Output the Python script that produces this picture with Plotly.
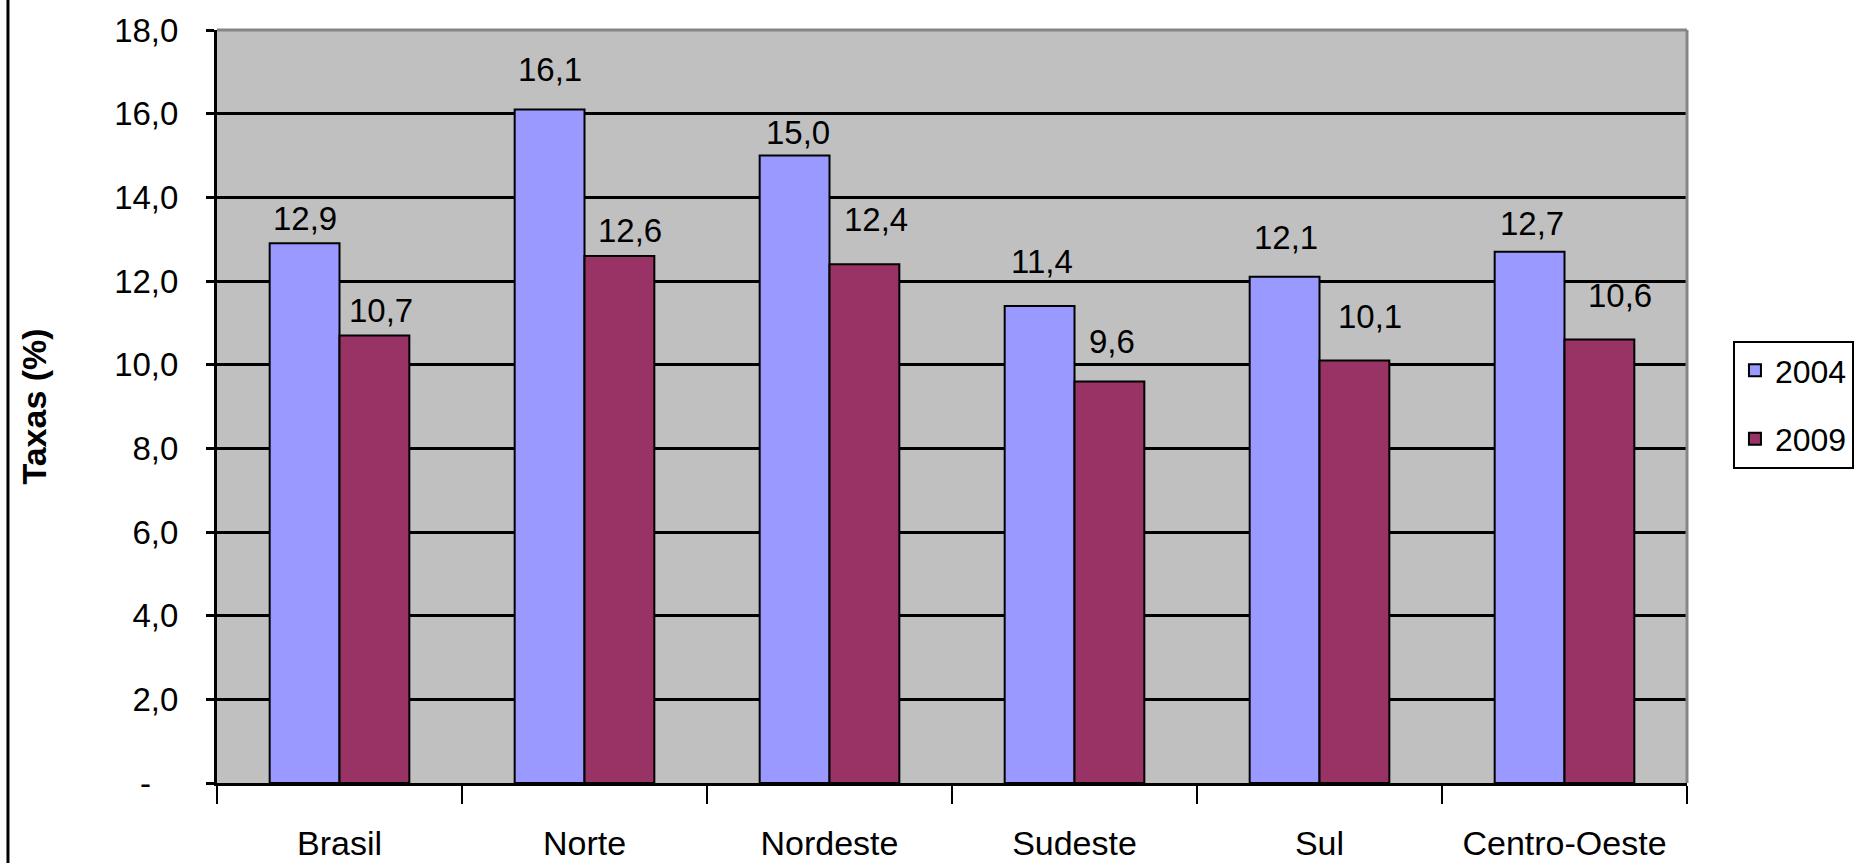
import plotly.graph_objects as go

# Regional rates, 2004 vs 2009
regioes = ["Brasil", "Norte", "Nordeste", "Sudeste", "Sul", "Centro-Oeste"]
taxas_2004 = [12.9, 16.1, 15.0, 11.4, 12.1, 12.7]
taxas_2009 = [10.7, 12.6, 12.4, 9.6, 10.1, 10.6]
anos = ["2004", "2009"]
y_ticks = [0, 2, 4, 6, 8, 10, 12, 14, 16, 18]
y_ticktext = ["-\u00a0\u00a0\u00a0"] + [f"{v:.1f}".replace(".", ",") for v in y_ticks[1:]]

# pixel nudges for the value labels (gap above bar, horizontal offset)
label_gap = {
    "2004": [13, 28, 12, 33, 28, 17],
    "2009": [13, 14, 33, 28, 32, 33],
}
label_dx = {
    "2004": [0, 0, 3, 2, 1, 2],
    "2009": [6, 10, 11, 2, 15, 20],
}

FONT = "Liberation Sans, Arial, sans-serif"
NARROW = "Liberation Sans Narrow, Arial Narrow, Liberation Sans, Arial, sans-serif"
cores = ["#9999FF", "#993366"]
BAR_OFFSET = 35  # half of a bar's width in px

fig = go.Figure()
series = [taxas_2004, taxas_2009]
for i, (ano, vals) in enumerate(zip(anos, series)):
    fig.add_trace(go.Bar(
        x=regioes, y=vals, name=ano, legendgroup=ano,
        marker=dict(color=cores[i], line=dict(color="black", width=2)),
    ))

# value labels above each bar
annotations = []
for i, (ano, vals) in enumerate(zip(anos, series)):
    base = -BAR_OFFSET if i == 0 else BAR_OFFSET
    for j, (reg, v) in enumerate(zip(regioes, vals)):
        annotations.append(dict(
            x=reg, y=v, xref="x", yref="y", text=f"{v:.1f}".replace(".", ","),
            showarrow=False, xshift=base + label_dx[ano][j],
            yshift=label_gap[ano][j] - 9, yanchor="bottom",
            font=dict(family=NARROW, size=33, color="black"),
        ))

shapes = [
    # gray frame on top and right of the plot area
    dict(type="line", xref="paper", yref="paper", x0=0, x1=1, y0=1, y1=1,
         line=dict(color="#858585", width=3), layer="above"),
    dict(type="line", xref="paper", yref="paper", x0=1, x1=1, y0=0, y1=1,
         line=dict(color="#858585", width=3), layer="above"),
    # left border of the chart area
    dict(type="line", xref="paper", yref="paper", x0=-0.1422, x1=-0.1422, y0=-0.11, y1=1.05,
         line=dict(color="black", width=3)),
]

fig.update_layout(
    width=1859, height=863,
    margin=dict(l=217, r=172, t=30, b=80),
    paper_bgcolor="white", plot_bgcolor="#C0C0C0",
    barmode="group", bargap=0.43, bargroupgap=0,
    font=dict(family=FONT, color="black"),
    annotations=annotations, shapes=shapes,
    legend=dict(
        xref="container", yref="container",
        x=0.9322, xanchor="left", y=0.605, yanchor="top",
        bgcolor="white", bordercolor="black", borderwidth=2,
        font=dict(family=FONT, size=32, color="black"),
        tracegroupgap=24,
    ),
    xaxis=dict(
        automargin=False,
        showline=True, linecolor="black", linewidth=3,
        ticks="outside", ticklen=18, tickwidth=2, tickcolor="black",
        tickson="boundaries", ticklabelstandoff=28,
        tickfont=dict(family=FONT, size=34, color="black"),
        showgrid=False,
    ),
    yaxis=dict(
        automargin=False,
        range=[0, 18], tickvals=y_ticks, ticktext=y_ticktext,
        showline=True, linecolor="black", linewidth=3,
        ticks="outside", ticklen=8, tickwidth=3, tickcolor="black",
        ticklabelstandoff=21,
        tickfont=dict(family=FONT, size=33, color="black"),
        showgrid=True, gridcolor="black", gridwidth=3,
        zeroline=False,
        title=dict(text="<b>Taxas (%)</b>", standoff=58,
                   font=dict(family=FONT, size=34, color="black")),
    ),
)

fig.write_html("out.html")
